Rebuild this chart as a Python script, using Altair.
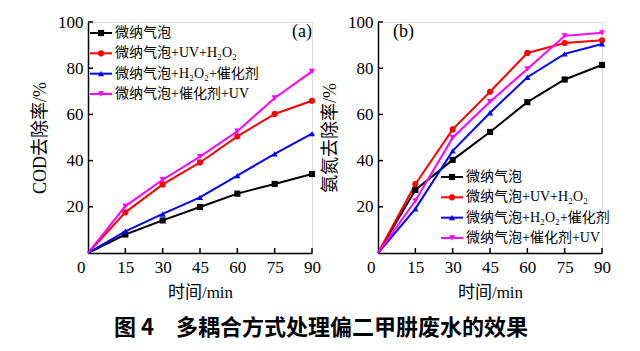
import altair as alt
import pandas as pd

times = [0, 15, 30, 45, 60, 75, 90]
series = ["微纳气泡", "微纳气泡+UV+H₂O₂", "微纳气泡+H₂O₂+催化剂", "微纳气泡+催化剂+UV"]
colors = ["#000000", "#ff0000", "#0000ff", "#ff00ff"]
shapes = ["square", "circle", "triangle-up", "triangle-down"]

# (a) COD removal (%)
cod_mb = [0, 8.0, 14.1, 19.9, 25.7, 29.9, 34.2]
cod_uv_h2o2 = [0, 17.6, 29.7, 39.2, 50.5, 60.2, 65.9]
cod_h2o2_cat = [0, 9.4, 16.9, 24.1, 33.5, 42.9, 51.7]
cod_cat_uv = [0, 20.3, 31.7, 41.7, 52.7, 67.1, 78.6]

# (b) ammonia nitrogen removal (%)
nh_mb = [0, 27.3, 40.3, 52.4, 65.3, 75.1, 81.4]
nh_uv_h2o2 = [0, 29.8, 53.5, 69.8, 86.6, 90.9, 92.1]
nh_h2o2_cat = [0, 19.1, 44.2, 60.7, 76.1, 86.2, 90.5]
nh_cat_uv = [0, 22.6, 49.9, 65.5, 79.7, 94.0, 95.3]

x_ticks = [0, 15, 30, 45, 60, 75, 90]
y_ticks = [20, 40, 60, 80, 100]

W, H = 224, 231
SERIF = "Liberation Serif, Noto Sans CJK SC"


def panel(vals, ytitle, label, label_x, label_align, leg_x, leg_rows):
    rows = []
    for s, vs in zip(series, vals):
        for t, v in zip(times, vs):
            rows.append({"series": s, "t": t, "v": v})
    df = pd.DataFrame(rows)
    xs = alt.Scale(domain=[0, 90], nice=False, zero=False)
    ys = alt.Scale(domain=[0, 100], nice=False)
    color = alt.Color("series:N", scale=alt.Scale(domain=series, range=colors), legend=None)
    shape = alt.Shape("series:N", scale=alt.Scale(domain=series, range=shapes), legend=None)

    xaxis = alt.Axis(
        values=x_ticks, title="时间/min", ticks=False, grid=False, labelOverlap=False,
        labelFont="Liberation Serif", labelFontSize=17, labelPadding=6, labelColor="black",
        labelAlign={"condition": {"test": "datum.value == 0", "value": "right"}, "value": "center"},
        labelOffset={"condition": {"test": "datum.value == 0", "value": -3}, "value": 0},
        titleFont=SERIF, titleFontSize=17, titleFontWeight="normal", titlePadding=9, titleColor="black",
        domainColor="black", domainWidth=1.5, labelFlush=False)
    yaxis = alt.Axis(
        values=y_ticks, title=ytitle, ticks=False, grid=False, labelOverlap=False,
        labelFont="Liberation Serif", labelFontSize=17, labelPadding=5, labelColor="black",
        titleFont=SERIF, titleFontSize=18, titleFontWeight="normal", titlePadding=8, titleColor="black",
        domainColor="black", domainWidth=1.5)
    x = alt.X("t:Q", scale=xs, axis=xaxis)
    y = alt.Y("v:Q", scale=ys, axis=yaxis)

    lines = alt.Chart(df).mark_line(strokeWidth=2).encode(x=x, y=y, color=color)
    pts = alt.Chart(df).transform_filter("datum.t > 0").mark_point(
        filled=True, size=38, opacity=1).encode(
        x=x, y=alt.Y("v:Q", scale=ys, axis=None), color=color, shape=shape)

    xt = pd.DataFrame({"v": x_ticks[1:]})
    yt = pd.DataFrame({"v": y_ticks})
    xtick = alt.Chart(xt).mark_rule(color="black", strokeWidth=1.5).encode(
        x=alt.X("v:Q", scale=xs, axis=xaxis), y=alt.value(H), y2=alt.value(H - 5))
    ytick = alt.Chart(yt).mark_rule(color="black", strokeWidth=1.5).encode(
        y=alt.Y("v:Q", scale=ys, axis=None), x=alt.value(0), x2=alt.value(5))

    leg = pd.DataFrame({"series": series, "row": [0, 1, 2, 3]})
    ly = alt.Y("row:Q", scale=alt.Scale(domain=[0, 3], range=leg_rows), axis=None)
    leg_line = alt.Chart(leg).mark_rule(strokeWidth=2).encode(
        x=alt.value(leg_x), x2=alt.value(leg_x + 22), y=ly, color=color)
    leg_pt = alt.Chart(leg).mark_point(filled=True, size=38, opacity=1).encode(
        x=alt.value(leg_x + 11), y=ly, color=color, shape=shape)
    leg_txt = alt.Chart(leg).mark_text(
        align="left", baseline="middle", font=SERIF, fontSize=14, color="black").encode(
        x=alt.value(leg_x + 25), y=ly, text="series:N")

    lab = alt.Chart(pd.DataFrame({"t": [label]})).mark_text(
        align=label_align, baseline="middle", font="Liberation Serif", fontSize=18, color="black").encode(
        x=alt.value(label_x), y=alt.value(10), text="t:N")

    return alt.layer(lines, pts, xtick, ytick, leg_line, leg_pt, leg_txt, lab).resolve_scale(
        y="independent").properties(width=W, height=H)


pa = panel([cod_mb, cod_uv_h2o2, cod_h2o2_cat, cod_cat_uv], "COD去除率/%",
           "(a)", W, "right", 2, [11, 72])
pb = panel([nh_mb, nh_uv_h2o2, nh_h2o2_cat, nh_cat_uv], "氨氮去除率/%",
           "(b)", 15, "left", 63, [155, 216])

chart = alt.hconcat(pa, pb, spacing=0).properties(
    title=alt.TitleParams("图 4　多耦合方式处理偏二甲肼废水的效果", orient="bottom", anchor="middle",
                          font="Noto Sans CJK SC", fontSize=22, fontWeight="bold", color="black", offset=17),
    padding={"left": 31, "top": 12, "right": 5, "bottom": 5},
).configure_view(stroke=None).configure_axis(
    labelFont="Liberation Serif", titleFont=SERIF
).configure(background="white")

chart.save("out.html", embed_options={"renderer": "svg", "actions": False})
